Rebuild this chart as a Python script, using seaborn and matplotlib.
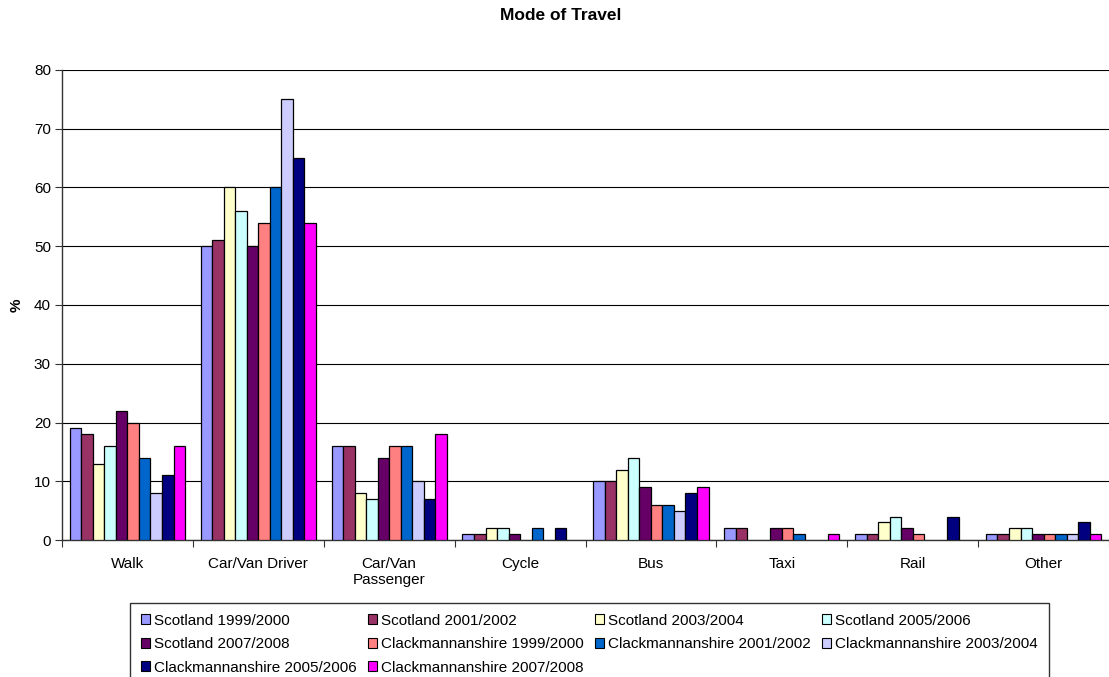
import numpy as np
import pandas as pd
import matplotlib
matplotlib.use("Agg")
import matplotlib.pyplot as plt
import seaborn as sns
from matplotlib.patches import Patch

categories = ["Walk", "Car/Van Driver", "Car/Van\nPassenger", "Cycle", "Bus", "Taxi", "Rail", "Other"]
series = ["Scotland 1999/2000", "Scotland 2001/2002", "Scotland 2003/2004", "Scotland 2005/2006",
          "Scotland 2007/2008", "Clackmannanshire 1999/2000", "Clackmannanshire 2001/2002",
          "Clackmannanshire 2003/2004", "Clackmannanshire 2005/2006", "Clackmannanshire 2007/2008"]

scot_1999 = [19, 50, 16, 1, 10, 2, 1, 1]
scot_2001 = [18, 51, 16, 1, 10, 2, 1, 1]
scot_2003 = [13, 60, 8, 2, 12, 0, 3, 2]
scot_2005 = [16, 56, 7, 2, 14, 0, 4, 2]
scot_2007 = [22, 50, 14, 1, 9, 2, 2, 1]
clack_1999 = [20, 54, 16, 0, 6, 2, 1, 1]
clack_2001 = [14, 60, 16, 2, 6, 1, 0, 1]
clack_2003 = [8, 75, 10, 0, 5, 0, 0, 1]
clack_2005 = [11, 65, 7, 2, 8, 0, 4, 3]
clack_2007 = [16, 54, 18, 0, 9, 1, 0, 1]

colors = ["#9999FF", "#993366", "#FFFFCC", "#CCFFFF", "#660066",
          "#FF8080", "#0066CC", "#CCCCFF", "#000080", "#FF00FF"]

values = [scot_1999, scot_2001, scot_2003, scot_2005, scot_2007,
          clack_1999, clack_2001, clack_2003, clack_2005, clack_2007]

rows = []
for s, vals in zip(series, values):
    for c, v in zip(categories, vals):
        rows.append({"Mode": c, "Series": s, "Value": v})
df = pd.DataFrame(rows)
df = df[df["Value"] > 0]

sns.set_style("white")
plt.rcParams["font.family"] = ["Liberation Sans", "DejaVu Sans"]
plt.rcParams["text.color"] = "black"
plt.rcParams["xtick.color"] = "black"
plt.rcParams["ytick.color"] = "black"
plt.rcParams["axes.labelcolor"] = "black"

fig = plt.figure(figsize=(11.09, 6.77), dpi=100)
ax = fig.add_axes([62 / 1109, 1 - 540 / 677, 1047 / 1109, 470 / 677])

sns.barplot(data=df, x="Mode", y="Value", hue="Series", order=categories, hue_order=series,
            palette=colors, saturation=1, width=0.88, errorbar=None, edgecolor="black",
            linewidth=0.9, ax=ax, legend=False, zorder=3)

ax.set_xlim(-0.5, len(categories) - 0.5)
ax.set_ylim(0, 80)
ax.set_yticks(np.arange(0, 81, 10))
ax.yaxis.grid(True, color="black", linewidth=0.8, zorder=0)
ax.set_axisbelow(True)
for side in ["top", "right"]:
    ax.spines[side].set_visible(False)
for side in ["left", "bottom"]:
    ax.spines[side].set_color("#333333")
    ax.spines[side].set_linewidth(1.0)

ax.set_xticks(np.arange(-0.5, len(categories), 1.0))
ax.set_xticklabels([])
ax.set_xticks(np.arange(len(categories)), minor=True)
ax.set_xticklabels(categories, minor=True, fontsize=11)
ax.tick_params(axis="x", which="major", direction="out", length=5, color="#333333", bottom=True)
ax.tick_params(axis="x", which="minor", length=0, pad=12, labelcolor="black")
ax.tick_params(axis="y", direction="out", length=5, color="#333333", labelsize=11, pad=3,
               left=True, labelcolor="black")
ax.set_xlabel("")
ax.set_ylabel("%", fontsize=11, fontweight="bold", color="black")
ax.yaxis.set_label_coords(-0.037, 0.5)

fig.text(0.506, 1 - 16 / 677, "Mode of Travel", ha="center", va="center", fontsize=12.5,
         fontweight="bold", color="black")

handles = [Patch(facecolor=c, edgecolor="black", linewidth=0.8) for c in colors]
order = [0, 4, 8, 1, 5, 9, 2, 6, 3, 7]
leg = fig.legend([handles[i] for i in order], [series[i] for i in order], ncol=4,
                 loc="upper left", bbox_to_anchor=(130 / 1109, 1 - 603 / 677),
                 fontsize=11, frameon=True, fancybox=False, shadow=False,
                 handlelength=0.6, handleheight=0.6, handletextpad=0.25,
                 columnspacing=0.75, labelspacing=0.62, borderpad=0.7, borderaxespad=0)
leg.get_frame().set_edgecolor("black")
leg.get_frame().set_linewidth(1.0)
for t in leg.get_texts():
    t.set_color("black")

fig.savefig("out.png", dpi=100)
